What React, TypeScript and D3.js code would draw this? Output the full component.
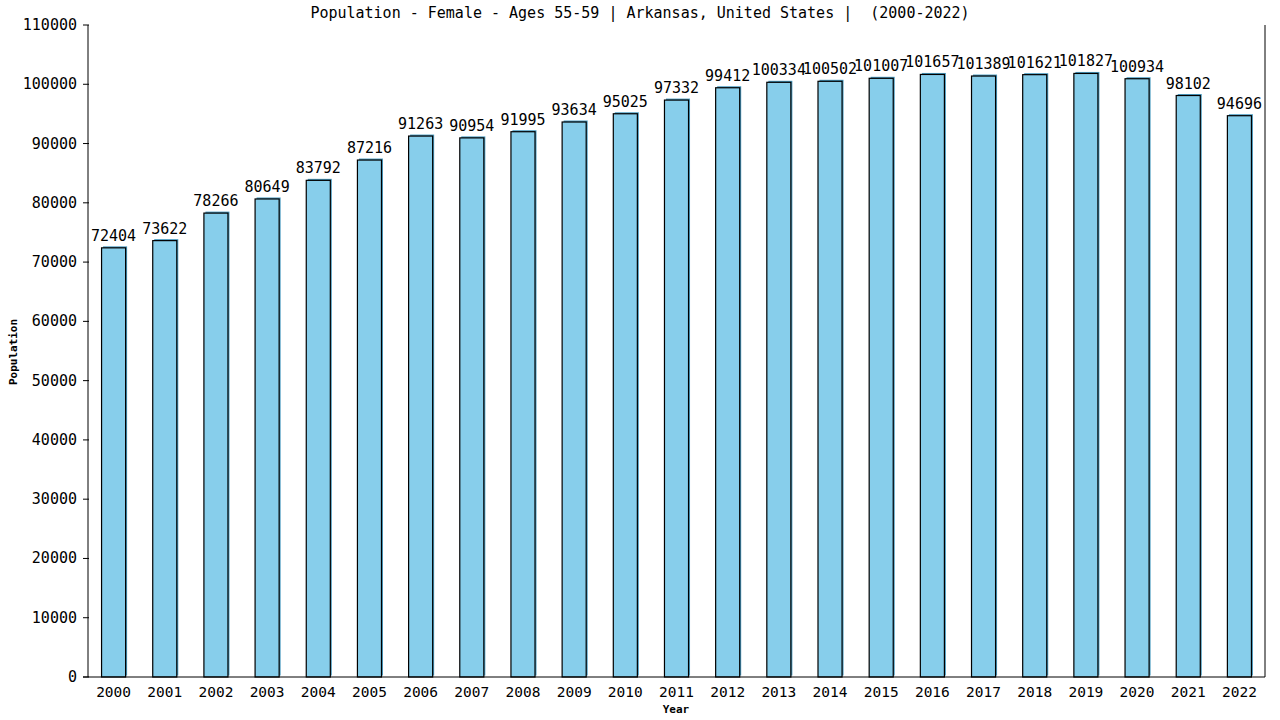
import { useEffect, useRef } from 'react';
import * as d3 from 'd3';

const years = ['2000', '2001', '2002', '2003', '2004', '2005', '2006', '2007', '2008', '2009', '2010', '2011', '2012', '2013', '2014', '2015', '2016', '2017', '2018', '2019', '2020', '2021', '2022'];
const population = [72404, 73622, 78266, 80649, 83792, 87216, 91263, 90954, 91995, 93634, 95025, 97332, 99412, 100334, 100502, 101007, 101657, 101389, 101621, 101827, 100934, 98102, 94696];
const yTicks = [0, 10000, 20000, 30000, 40000, 50000, 60000, 70000, 80000, 90000, 100000, 110000];

const W = 1280;
const H = 720;
const FONT = '"DejaVu Sans Mono", monospace';

export default function App() {
  const ref = useRef<SVGSVGElement | null>(null);

  useEffect(() => {
    const svg = d3.select(ref.current);
    svg.selectAll('*').remove();

    const left = 88, right = 1265, top = 25, bottom = 677;

    const x = d3.scaleBand<string>().domain(years).range([left, right]).paddingInner(0.53).paddingOuter(0.265);
    const y = d3.scaleLinear().domain([0, 110000]).range([bottom, top]);

    svg.append('rect').attr('width', W).attr('height', H).attr('fill', '#fff');

    // title
    svg.append('text')
      .attr('x', 640).attr('y', 18)
      .attr('text-anchor', 'middle')
      .attr('font-family', FONT).attr('font-size', 15)
      .attr('xml:space', 'preserve')
      .style('white-space', 'pre')
      .text('Population - Female - Ages 55-59 | Arkansas, United States |  (2000-2022)');

    // bars with small shadow
    const g = svg.append('g');
    g.selectAll('rect.shadow').data(population).enter().append('rect')
      .attr('x', (d, i) => x(years[i])! + 1.5)
      .attr('y', d => y(d) - 1.5)
      .attr('width', x.bandwidth())
      .attr('height', d => bottom - y(d))
      .attr('fill', '#4a9bc0');
    g.selectAll('rect.bar').data(population).enter().append('rect')
      .attr('x', (d, i) => x(years[i])!)
      .attr('y', d => y(d))
      .attr('width', x.bandwidth())
      .attr('height', d => bottom - y(d))
      .attr('fill', '#87ceeb')
      .attr('stroke', '#000')
      .attr('stroke-width', 1.2);

    g.selectAll('text.val').data(population).enter().append('text')
      .attr('x', (d, i) => x(years[i])! + x.bandwidth() / 2)
      .attr('y', d => y(d) - 7)
      .attr('text-anchor', 'middle')
      .attr('font-family', FONT).attr('font-size', 15)
      .text(d => String(d));

    // axes
    svg.append('line').attr('x1', left).attr('x2', left).attr('y1', top).attr('y2', bottom).attr('stroke', '#000');
    svg.append('line').attr('x1', right).attr('x2', right).attr('y1', top).attr('y2', bottom).attr('stroke', '#000');
    svg.append('line').attr('x1', left - 5).attr('x2', right).attr('y1', bottom).attr('y2', bottom).attr('stroke', '#000');

    const yt = svg.append('g');
    yt.selectAll('line').data(yTicks).enter().append('line')
      .attr('x1', left - 5).attr('x2', left + 1)
      .attr('y1', d => y(d)).attr('y2', d => y(d))
      .attr('stroke', '#000');
    yt.selectAll('text').data(yTicks).enter().append('text')
      .attr('x', left - 11).attr('y', d => y(d) + 5)
      .attr('text-anchor', 'end')
      .attr('font-family', FONT).attr('font-size', 15)
      .text(d => String(d));

    svg.append('g').selectAll('text').data(years).enter().append('text')
      .attr('x', d => x(d)! + x.bandwidth() / 2)
      .attr('y', 697)
      .attr('text-anchor', 'middle')
      .attr('font-family', FONT).attr('font-size', 14.5)
      .text(d => d);

    svg.append('text')
      .attr('x', 676).attr('y', 713)
      .attr('text-anchor', 'middle')
      .attr('font-family', FONT).attr('font-size', 11).attr('font-weight', 'bold')
      .text('Year');

    svg.append('text')
      .attr('transform', 'translate(17,352) rotate(-90)')
      .attr('text-anchor', 'middle')
      .attr('font-family', FONT).attr('font-size', 11).attr('font-weight', 'bold')
      .text('Population');
  }, []);

  return (
    <svg ref={ref} width={W} height={H} style={{ position: 'absolute', left: 0, top: 0 }}></svg>
  );
}
